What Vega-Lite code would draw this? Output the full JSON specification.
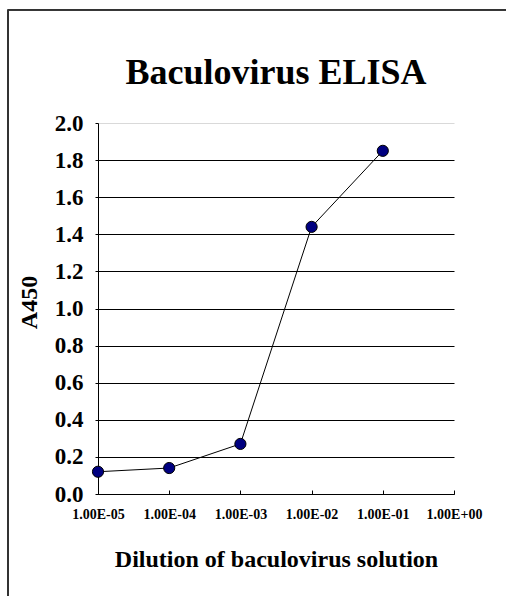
{
  "$schema": "https://vega.github.io/schema/vega-lite/v6.json",
  "width": 356,
  "height": 371,
  "autosize": {"type": "none"},
  "padding": {"left": 98, "top": 123, "right": 52, "bottom": 102},
  "background": "white",
  "title": {
    "text": "Baculovirus ELISA",
    "font": "Liberation Serif",
    "fontSize": 36,
    "fontWeight": "bold",
    "color": "black",
    "anchor": "middle",
    "frame": "group",
    "baseline": "alphabetic",
    "offset": 0,
    "dy": 111
  },
  "config": {
    "view": {"stroke": null},
    "axis": {
      "labelFont": "Liberation Serif",
      "titleFont": "Liberation Serif",
      "labelFontWeight": "bold",
      "titleFontWeight": "bold",
      "labelColor": "black",
      "titleColor": "black",
      "domainColor": "black",
      "tickColor": "black",
      "domainWidth": 1,
      "tickWidth": 1
    }
  },
  "data": {
    "values": [
      {"dilution": 0.00001, "a450": 0.12},
      {"dilution": 0.0001, "a450": 0.14},
      {"dilution": 0.001, "a450": 0.27},
      {"dilution": 0.01, "a450": 1.44},
      {"dilution": 0.1, "a450": 1.85}
    ]
  },
  "encoding": {
    "x": {
      "field": "dilution",
      "type": "quantitative",
      "scale": {"type": "log", "domain": [0.00001, 1], "nice": false},
      "axis": {
        "title": "Dilution of baculovirus solution",
        "titleFontSize": 24,
        "titleBaseline": "alphabetic",
        "titleY": 72,
        "values": [0.00001, 0.0001, 0.001, 0.01, 0.1, 1],
        "labelExpr": "'1.00E' + (round(log(datum.value)/LN10) < 0 ? '-' : '+') + (abs(round(log(datum.value)/LN10)) < 10 ? '0' : '') + abs(round(log(datum.value)/LN10))",
        "labelFontSize": 14,
        "labelPadding": 17,
        "tickSize": -4,
        "grid": false,
        "labelFlush": false,
        "labelOverlap": false
      }
    },
    "y": {
      "field": "a450",
      "type": "quantitative",
      "scale": {"domain": [0, 2], "nice": false, "zero": true},
      "axis": {
        "title": "A450",
        "titleFontSize": 24,
        "titleBaseline": "alphabetic",
        "titleX": -62,
        "titleY": 179,
        "titleAngle": -90,
        "values": [0, 0.2, 0.4, 0.6, 0.8, 1.0, 1.2, 1.4, 1.6, 1.8, 2.0],
        "format": ".1f",
        "labelFontSize": 23,
        "labelPadding": 12,
        "tickSize": 3,
        "grid": true,
        "gridColor": {"condition": {"test": "datum.value >= 2", "value": "#d9d9d9"}, "value": "black"},
        "gridWidth": 1,
        "labelOverlap": false,
        "labelFlush": false
      }
    }
  },
  "layer": [
    {
      "mark": {"type": "line", "color": "black", "strokeWidth": 1}
    },
    {
      "mark": {"type": "point", "filled": true, "fill": "#000080", "stroke": "black", "strokeWidth": 1, "size": 125, "opacity": 1}
    },
    {
      "mark": {"type": "rule", "color": "#333333", "strokeWidth": 1.5, "clip": false},
      "encoding": {
        "x": {"datum": 0.000000544},
        "y": {"datum": 2.61},
        "y2": {"datum": -1}
      }
    },
    {
      "mark": {"type": "rule", "color": "#333333", "strokeWidth": 1.5, "clip": false},
      "encoding": {
        "x": {"datum": 0.000000544},
        "x2": {"datum": 100},
        "y": {"datum": 2.61}
      }
    }
  ]
}
